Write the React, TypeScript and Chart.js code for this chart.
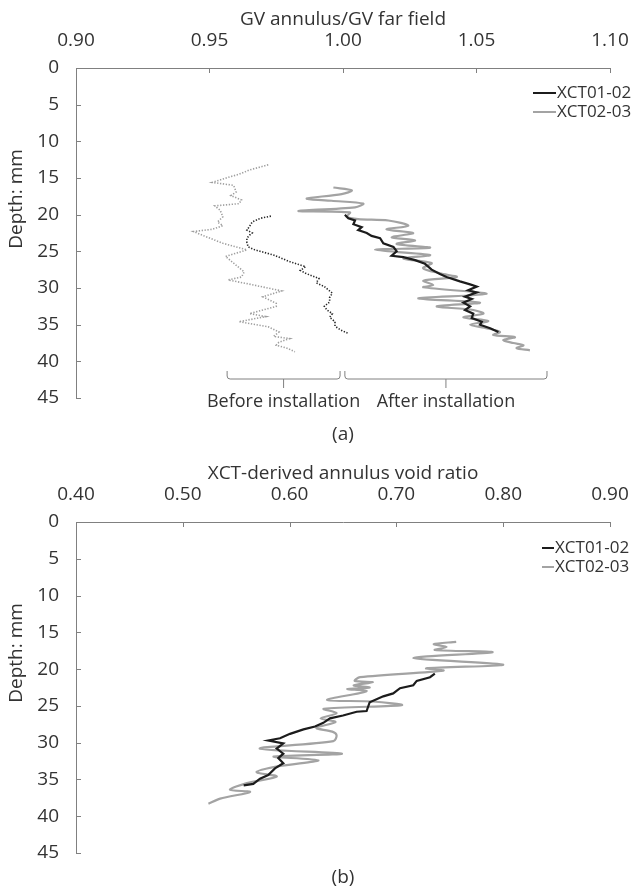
import { useEffect, useRef } from "react";
import { Chart, registerables } from "chart.js";

Chart.register(...registerables);

const FONT = '"Open Sans", "Noto Sans", sans-serif';
const TEXT = "#333333";
const AXIS = "#808080";
const BLACK = "#1c1c1c";
const GRAY = "#a3a3a3";
const DOT_BLACK = "#262626";
const DOT_GRAY = "#9e9e9e";

// ---- axes ----
const depthTicks = [0, 5, 10, 15, 20, 25, 30, 35, 40, 45];
const gvTicks = [0.9, 0.95, 1.0, 1.05, 1.1];
const voidTicks = [0.4, 0.5, 0.6, 0.7, 0.8, 0.9];
const seriesNames = ["XCT01-02", "XCT02-03"];

// ---- panel (a): GV annulus / GV far field ----
// before installation, XCT02-03 (light grey dotted)
const beforeA02Depth = [13.2, 13.9, 14.5, 14.8, 15.6, 16.0, 16.9, 17.4, 18.0, 18.5, 18.8, 19.4, 20.3, 21.0, 21.5, 22.0, 22.3, 22.9, 23.9, 24.5, 24.8, 25.7, 26.3, 26.9, 27.8, 28.5, 28.9, 29.4, 30.4, 31.2, 32.1, 32.5, 33.5, 33.9, 34.6, 35.3, 36.0, 36.6, 36.9, 37.4, 37.8, 38.2, 38.7];
const beforeA02Value = [0.972, 0.965, 0.961, 0.958, 0.951, 0.959, 0.960, 0.958, 0.962, 0.961, 0.952, 0.954, 0.955, 0.953, 0.955, 0.951, 0.944, 0.948, 0.955, 0.961, 0.964, 0.956, 0.958, 0.960, 0.963, 0.962, 0.957, 0.964, 0.977, 0.970, 0.975, 0.975, 0.965, 0.971, 0.961, 0.972, 0.976, 0.974, 0.980, 0.976, 0.975, 0.979, 0.982];
// before installation, XCT01-02 (black dotted)
const beforeA01Depth = [20.2, 20.5, 21.0, 21.6, 22.1, 22.5, 22.8, 23.2, 23.8, 24.4, 24.8, 25.5, 26.4, 27.1, 27.6, 28.0, 28.7, 29.3, 29.8, 30.7, 31.3, 31.9, 32.5, 33.0, 33.5, 34.0, 34.6, 35.2, 35.7, 36.2];
const beforeA01Value = [0.973, 0.969, 0.966, 0.965, 0.964, 0.966, 0.965, 0.964, 0.964, 0.9645, 0.967, 0.974, 0.980, 0.986, 0.984, 0.986, 0.991, 0.990, 0.993, 0.996, 0.995, 0.995, 0.993, 0.994, 0.996, 0.995, 0.997, 0.997, 0.999, 1.002];
// after installation, XCT02-03 (grey solid)
const afterA02Depth = [16.3, 16.7, 17.2, 17.8, 18.1, 18.5, 19.0, 19.5, 19.7, 20.3, 20.6, 20.8, 21.5, 22.0, 22.5, 23.1, 23.5, 24.0, 24.5, 24.8, 25.5, 26.0, 26.6, 27.3, 28.0, 28.5, 29.0, 29.6, 29.9, 30.8, 31.4, 32.0, 32.5, 33.0, 33.5, 34.0, 34.5, 35.0, 35.5, 36.0, 36.4, 36.7, 37.1, 37.5, 37.8, 38.2, 38.5];
const afterA02Value = [0.9964, 1.0033, 0.9995, 0.9864, 0.9957, 1.0076, 1.0045, 0.9833, 1.0026, 1.0014, 1.0057, 1.017, 1.0245, 1.0163, 1.0263, 1.0182, 1.027, 1.0201, 1.0326, 1.012, 1.0326, 1.0226, 1.0332, 1.03, 1.0363, 1.0426, 1.0301, 1.0338, 1.0301, 1.0538, 1.0282, 1.0513, 1.0351, 1.0488, 1.0526, 1.0451, 1.0544, 1.0476, 1.054, 1.0588, 1.0563, 1.0644, 1.06, 1.0638, 1.0676, 1.065, 1.07];
// after installation, XCT01-02 (black solid)
const afterA01Depth = [20.0, 20.5, 20.8, 21.3, 21.7, 22.1, 22.5, 22.9, 23.2, 23.9, 24.4, 25.0, 25.6, 25.8, 26.2, 26.7, 27.5, 28.1, 28.5, 29.1, 29.5, 29.8, 30.3, 30.6, 31.2, 31.5, 32.0, 32.5, 33.0, 33.5, 34.1, 34.6, 35.0, 35.5, 36.0];
const afterA01Value = [1.0007, 1.002, 1.0045, 1.0039, 1.007, 1.0057, 1.0089, 1.0107, 1.0139, 1.0151, 1.0189, 1.0201, 1.0182, 1.0226, 1.027, 1.0307, 1.0332, 1.0363, 1.0388, 1.0438, 1.0476, 1.0501, 1.0469, 1.0501, 1.0457, 1.0482, 1.0451, 1.0476, 1.0457, 1.0488, 1.0482, 1.052, 1.0513, 1.0551, 1.0582];

// bracket annotations under panel (a)
const bracketLabels = ["Before installation", "After installation"];
const bracketFrom = [0.9566, 1.0007];
const bracketTo = [0.9989, 1.0764];

// ---- panel (b): XCT-derived annulus void ratio ----
const voidB02Depth = [16.3, 16.6, 17.0, 17.4, 17.7, 18.5, 19.4, 19.9, 20.2, 21.1, 21.6, 21.8, 22.2, 22.5, 22.7, 23.0, 24.2, 24.4, 24.9, 25.4, 26.0, 26.7, 27.2, 28.0, 28.5, 29.0, 29.8, 30.8, 31.5, 31.9, 32.4, 33.2, 34.0, 34.6, 35.5, 36.4, 36.7, 37.6, 38.3];
const voidB02Value = [0.756, 0.735, 0.747, 0.736, 0.79, 0.716, 0.8, 0.728, 0.744, 0.666, 0.661, 0.678, 0.66, 0.675, 0.654, 0.672, 0.635, 0.678, 0.705, 0.632, 0.644, 0.629, 0.643, 0.625, 0.64, 0.644, 0.641, 0.572, 0.649, 0.585, 0.627, 0.59, 0.569, 0.588, 0.56, 0.544, 0.563, 0.535, 0.524];
const voidB01Depth = [20.6, 21.1, 21.6, 22.2, 22.6, 23.3, 23.7, 24.5, 25.7, 25.8, 26.3, 26.7, 27.3, 27.8, 28.2, 28.8, 29.4, 29.7, 30.1, 30.8, 31.5, 32.1, 32.8, 33.5, 34.4, 34.9, 35.6, 35.8];
const voidB01Value = [0.736, 0.7315, 0.719, 0.7158, 0.7034, 0.697, 0.6877, 0.675, 0.6721, 0.6628, 0.65, 0.6378, 0.6316, 0.6238, 0.613, 0.6004, 0.591, 0.58, 0.5941, 0.5879, 0.5941, 0.5894, 0.5941, 0.5863, 0.58, 0.5723, 0.566, 0.557];

const pts = (d: number[], v: number[]) => d.map((y, i) => ({ x: v[i], y }));

const decorPlugin = {
  id: "decor",
  afterDraw(chart: any, _a: any, o: any) {
    const { ctx, chartArea: ca, scales } = chart;
    const xs = scales.x;
    const ys = scales.y;
    ctx.save();
    // inward tick marks
    ctx.strokeStyle = AXIS;
    ctx.lineWidth = 1;
    ctx.beginPath();
    xs.ticks.forEach((t: any) => {
      if (t.value === xs.min) return;
      const px = Math.round(xs.getPixelForValue(t.value)) + 0.5;
      ctx.moveTo(px, ca.top);
      ctx.lineTo(px, ca.top + 5);
    });
    ys.ticks.forEach((t: any) => {
      if (t.value === ys.min) return;
      const py = Math.round(ys.getPixelForValue(t.value)) + 0.5;
      ctx.moveTo(ca.left, py);
      ctx.lineTo(ca.left + 5, py);
    });
    ctx.stroke();

    // y-axis title
    ctx.fillStyle = TEXT;
    ctx.font = `19px ${FONT}`;
    ctx.textAlign = "center";
    ctx.textBaseline = "middle";
    ctx.save();
    ctx.translate(o.yTitleX, ca.top + o.yTitleDy);
    ctx.rotate(-Math.PI / 2);
    ctx.fillText(o.yTitle, 0, 0);
    ctx.restore();

    // caption
    ctx.fillText(o.caption, (ca.left + ca.right) / 2, ca.bottom + o.captionDy);

    // legend
    o.legendIdx.forEach((di: number, i: number) => {
      const ds = chart.data.datasets[di];
      const y = ca.top + o.legendDy + i * 19;
      ctx.strokeStyle = ds.borderColor;
      ctx.lineWidth = 2;
      ctx.beginPath();
      ctx.moveTo(ca.right + o.legendX1, y);
      ctx.lineTo(ca.right + o.legendX2, y);
      ctx.stroke();
      ctx.fillStyle = TEXT;
      ctx.font = `17px ${FONT}`;
      ctx.textAlign = "left";
      ctx.fillText(ds.label, ca.right + o.legendX2 + 1, y);
    });

    // brackets
    (o.brackets || []).forEach((b: any) => {
      const x1 = xs.getPixelForValue(b.from);
      const x2 = xs.getPixelForValue(b.to);
      const yTop = ca.bottom - 27;
      const yLine = ca.bottom - 19;
      const yTip = ca.bottom - 10;
      const r = 3;
      ctx.strokeStyle = AXIS;
      ctx.lineWidth = 1;
      ctx.beginPath();
      ctx.moveTo(x1, yTop);
      ctx.arcTo(x1, yLine, x1 + r, yLine, r);
      ctx.arcTo(x2, yLine, x2, yTop, r);
      ctx.lineTo(x2, yTop);
      ctx.stroke();
      const xm = (x1 + x2) / 2;
      ctx.beginPath();
      ctx.moveTo(xm, yLine);
      ctx.lineTo(xm, yTip);
      ctx.stroke();
      ctx.fillStyle = TEXT;
      ctx.font = `18px ${FONT}`;
      ctx.textAlign = "center";
      ctx.fillText(b.label, xm, ca.bottom + 4);
    });
    ctx.restore();
  },
};

function makeConfig(p: any) {
  return {
    type: "line",
    data: { datasets: p.datasets },
    plugins: [decorPlugin],
    options: {
      responsive: false,
      animation: false,
      events: [],
      layout: { padding: { left: 0, top: 0, right: 28, bottom: p.bottomPad } },
      elements: { point: { radius: 0 }, line: { tension: 0 } },
      plugins: {
        legend: { display: false },
        tooltip: { enabled: false },
        decor: p.decor,
      },
      scales: {
        x: {
          type: "linear",
          position: "top",
          min: p.xTicks[0],
          max: p.xTicks[p.xTicks.length - 1],
          afterBuildTicks: (s: any) => {
            s.ticks = p.xTicks.map((v: number) => ({ value: v }));
          },
          afterFit: (s: any) => {
            s.height = 68;
          },
          grid: { display: false },
          border: { display: true, color: AXIS, width: 1 },
          ticks: {
            padding: 8,
            color: TEXT,
            font: { family: FONT, size: 19 },
            maxRotation: 0,
            autoSkip: false,
            callback: (v: number) => Number(v).toFixed(2),
          },
          title: {
            display: true,
            text: p.xTitle,
            color: TEXT,
            font: { family: FONT, size: 19 },
            padding: { top: 8, bottom: 0 },
          },
        },
        y: {
          type: "linear",
          reverse: true,
          min: 0,
          max: 45,
          afterBuildTicks: (s: any) => {
            s.ticks = depthTicks.map((v) => ({ value: v }));
          },
          afterFit: (s: any) => {
            s.width = 76;
          },
          grid: { display: false },
          border: { display: true, color: AXIS, width: 1 },
          ticks: {
            padding: 9,
            color: TEXT,
            font: { family: FONT, size: 19 },
            autoSkip: false,
            callback: (v: number) => String(v),
          },
        },
      },
    },
  };
}

function Panel({ height, config }: { height: number; config: any }) {
  const ref = useRef<HTMLCanvasElement | null>(null);
  useEffect(() => {
    if (!ref.current) return;
    const chart = new Chart(ref.current, config);
    return () => chart.destroy();
  }, [config]);
  return <canvas ref={ref} width={638} height={height} style={{ display: "block" }} />;
}

const configA = makeConfig({
  xTicks: gvTicks,
  xTitle: "GV annulus/GV far field",
  bottomPad: 56,
  datasets: [
    { label: seriesNames[0], data: pts(afterA01Depth, afterA01Value), borderColor: BLACK, borderWidth: 2.2 },
    { label: seriesNames[1], data: pts(afterA02Depth, afterA02Value), borderColor: GRAY, borderWidth: 2.2, tension: 0.3 },
    { label: seriesNames[0] + " before", data: pts(beforeA01Depth, beforeA01Value), borderColor: DOT_BLACK, borderWidth: 1.6, borderDash: [1.3, 1.6] },
    { label: seriesNames[1] + " before", data: pts(beforeA02Depth, beforeA02Value), borderColor: DOT_GRAY, borderWidth: 1.6, borderDash: [1.3, 1.6] },
  ],
  decor: {
    yTitle: "Depth: mm",
    yTitleX: 17,
    yTitleDy: 131,
    caption: "(a)",
    captionDy: 37,
    legendIdx: [0, 1],
    legendDy: 25,
    legendX1: -77,
    legendX2: -54,
    brackets: bracketLabels.map((label, i) => ({ label, from: bracketFrom[i], to: bracketTo[i] })),
  },
});

const configB = makeConfig({
  xTicks: voidTicks,
  xTitle: "XCT-derived annulus void ratio",
  bottomPad: 39,
  datasets: [
    { label: seriesNames[0], data: pts(voidB01Depth, voidB01Value), borderColor: BLACK, borderWidth: 2.2 },
    { label: seriesNames[1], data: pts(voidB02Depth, voidB02Value), borderColor: GRAY, borderWidth: 2.2, tension: 0.3 },
  ],
  decor: {
    yTitle: "Depth: mm",
    yTitleX: 17,
    yTitleDy: 131,
    caption: "(b)",
    captionDy: 25,
    legendIdx: [0, 1],
    legendDy: 26,
    legendX1: -68,
    legendX2: -56,
  },
});

export default function App() {
  useEffect(() => {
    document.body.style.margin = "0";
    document.body.style.background = "#ffffff";
  }, []);
  return (
    <div style={{ width: 638, background: "#fff" }}>
      <Panel height={454} config={configA} />
      <Panel height={438} config={configB} />
    </div>
  );
}
